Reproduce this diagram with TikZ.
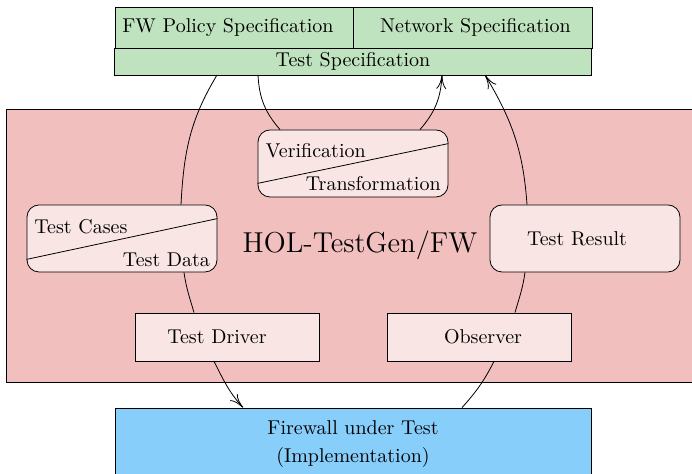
\documentclass[tikz,border=0pt]{standalone}
\usetikzlibrary{arrows.meta,positioning}
\definecolor{specgreen}{RGB}{191,227,191}
\definecolor{holred}{RGB}{242,191,191}
\definecolor{boxpink}{RGB}{250,229,229}
\definecolor{fwblue}{RGB}{135,206,250}
\begin{document}
\begin{tikzpicture}[x=0.5pt,y=0.5pt,
    spec/.style={draw, fill=specgreen, inner sep=0pt, outer sep=0pt},
    part/.style={draw, fill=boxpink, rounded corners=6pt, minimum width=95pt, minimum height=33.5pt, inner sep=0pt},
    unit/.style={draw, fill=boxpink, minimum width=92pt, minimum height=24pt},
    tag/.style={inner sep=0pt},
    flow/.style={-{To[length=7pt,width=5pt]}}]
      \useasboundingbox (0,0) rectangle (692,474);
      \node[draw, fill=holred, minimum width=354pt, minimum height=136.5pt, font=\Large] (hol) at (360,228.5) {HOL-TestGen/FW};
      % specification
      \node[spec, minimum width=119pt, minimum height=20.5pt] (fwpol) at (234,446.5) {FW Policy Specification\hspace*{6pt}};
      \node[spec, minimum width=119.5pt, minimum height=20.5pt, right=0pt of fwpol] (netspec) {\hspace*{3pt}Network Specification};
      \node[spec, minimum width=238.5pt, minimum height=13.5pt, below=0pt of fwpol.south east] (tspec) {Test Specification};
      % tool parts
      \node[part] (verif) at (353,310.5) {};
      \draw ([yshift=7pt]verif.south west) -- ([yshift=-7pt]verif.north east);
      \node[tag, anchor=north west] (vtxt) at ([shift={(3.8pt,-6.7pt)}]verif.north west) {Verification};
      \node[tag, anchor=south east] (ttxt) at ([shift={(-3.7pt,3pt)}]verif.south east) {Transformation};
      \node[part] (tcases) at (122,235.5) {};
      \draw ([yshift=6.5pt]tcases.south west) -- ([yshift=-7pt]tcases.north east);
      \node[tag, anchor=north west] (ctxt) at ([shift={(3.7pt,-7pt)}]tcases.north west) {Test Cases};
      \node[tag, anchor=south east] (dtxt) at ([shift={(-3.5pt,2.5pt)}]tcases.south east) {Test Data};
      \node[part] (tresult) at (585,235.5) {Test Result\hspace*{8pt}};
      \node[unit] (tdriver) at (227,137) {Test Driver\hspace*{10pt}};
      \node[unit] (observer) at (479,137) {\hspace*{4pt}Observer};
      \node[draw, fill=fwblue, minimum width=238pt, minimum height=36pt, align=center] (fwall) at (353,30) {Firewall under Test\\[2pt](Implementation)};
      % test cycle
      \draw (217,0 |- tspec.south) to[out=239,in=87] (181,0 |- tcases.north);
      \draw (184,0 |- tcases.south) to[out=278,in=106] (194,0 |- tdriver.north);
      \draw[flow] (214,0 |- tdriver.south) to[out=297,in=132] (243,0 |- fwall.north);
      \draw (462,0 |- fwall.north) to[out=48,in=243] (494,0 |- observer.south);
      \draw (515,0 |- observer.north) to[out=74,in=262] (525,0 |- tresult.south);
      \draw[flow] (527,0 |- tresult.north) to[out=94,in=301] (485,0 |- tspec.south);
      \draw (258,0 |- tspec.south) to[out=273,in=131] (280,0 |- verif.north);
      \draw[flow] (420,0 |- verif.north) to[out=49,in=267] (442,0 |- tspec.south);
\end{tikzpicture}
\end{document}
